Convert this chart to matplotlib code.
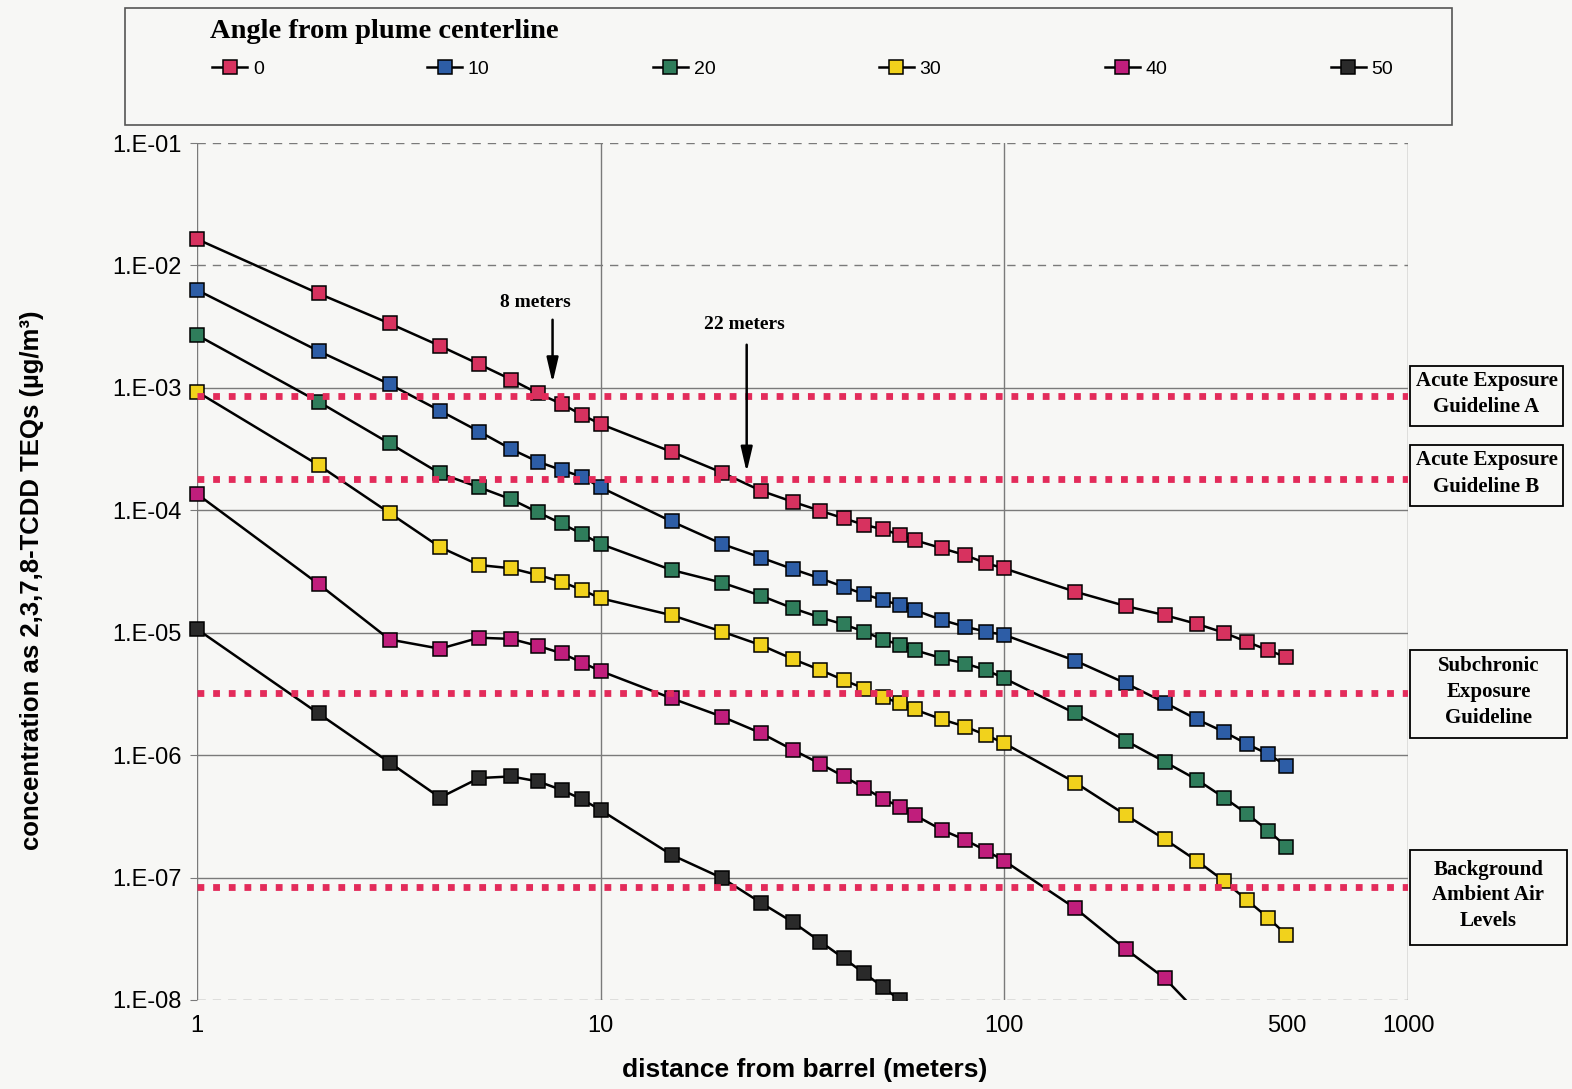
import numpy as np
import matplotlib
matplotlib.use('Agg')
from matplotlib import pyplot as plt
from matplotlib.lines import Line2D
from matplotlib.patches import Rectangle

# distance from barrel (m) and concentration per angle (ug/m3)
distance = [1, 2, 3, 4, 5, 6, 7, 8, 9, 10, 15, 20, 25, 30, 35, 40, 45, 50, 55, 60,
            70, 80, 90, 100, 150, 200, 250, 300, 350, 400, 450, 500]

angle_0 = [1.64e-2, 5.9e-3, 3.36e-3, 2.2e-3, 1.56e-3, 1.17e-3, 9.0e-4, 7.4e-4, 6.0e-4, 5.06e-4,
           3.0e-4, 2.03e-4, 1.44e-4, 1.17e-4, 9.9e-5, 8.6e-5, 7.6e-5, 7.0e-5, 6.3e-5, 5.7e-5,
           4.9e-5, 4.3e-5, 3.7e-5, 3.35e-5, 2.16e-5, 1.65e-5, 1.39e-5, 1.18e-5, 1.0e-5, 8.4e-6,
           7.2e-6, 6.3e-6]
angle_10 = [6.3e-3, 2.0e-3, 1.07e-3, 6.5e-4, 4.4e-4, 3.16e-4, 2.49e-4, 2.13e-4, 1.88e-4, 1.54e-4,
            8.1e-5, 5.3e-5, 4.1e-5, 3.3e-5, 2.78e-5, 2.37e-5, 2.06e-5, 1.85e-5, 1.68e-5, 1.53e-5,
            1.27e-5, 1.12e-5, 1.02e-5, 9.6e-6, 5.9e-6, 3.86e-6, 2.68e-6, 1.96e-6, 1.55e-6, 1.23e-6,
            1.02e-6, 8.2e-7]
angle_20 = [2.7e-3, 7.7e-4, 3.52e-4, 2.0e-4, 1.54e-4, 1.23e-4, 9.6e-5, 7.8e-5, 6.4e-5, 5.3e-5,
            3.25e-5, 2.56e-5, 2.0e-5, 1.58e-5, 1.33e-5, 1.17e-5, 1.02e-5, 8.8e-6, 8.0e-6, 7.2e-6,
            6.2e-6, 5.6e-6, 4.96e-6, 4.24e-6, 2.19e-6, 1.31e-6, 8.8e-7, 6.3e-7, 4.5e-7, 3.3e-7,
            2.42e-7, 1.79e-7]
angle_30 = [9.3e-4, 2.34e-4, 9.5e-5, 5.0e-5, 3.57e-5, 3.36e-5, 2.96e-5, 2.61e-5, 2.23e-5, 1.91e-5,
            1.39e-5, 1.02e-5, 7.9e-6, 6.07e-6, 4.96e-6, 4.1e-6, 3.5e-6, 3.0e-6, 2.65e-6, 2.36e-6,
            1.96e-6, 1.71e-6, 1.46e-6, 1.25e-6, 5.96e-7, 3.24e-7, 2.05e-7, 1.37e-7, 9.4e-8, 6.5e-8,
            4.7e-8, 3.4e-8]
angle_40 = [1.36e-4, 2.5e-5, 8.8e-6, 7.4e-6, 9.1e-6, 8.9e-6, 7.8e-6, 6.8e-6, 5.7e-6, 4.86e-6,
            2.91e-6, 2.06e-6, 1.51e-6, 1.10e-6, 8.5e-7, 6.7e-7, 5.4e-7, 4.4e-7, 3.8e-7, 3.24e-7,
            2.45e-7, 2.03e-7, 1.66e-7, 1.37e-7, 5.6e-8, 2.6e-8, 1.5e-8, 8.0e-9]
angle_50 = [1.07e-5, 2.19e-6, 8.7e-7, 4.5e-7, 6.5e-7, 6.7e-7, 6.1e-7, 5.2e-7, 4.35e-7, 3.56e-7,
            1.53e-7, 9.9e-8, 6.2e-8, 4.3e-8, 3.0e-8, 2.19e-8, 1.65e-8, 1.28e-8, 1.0e-8]

series = [angle_0, angle_10, angle_20, angle_30, angle_40, angle_50]
series_labels = ['0', '10', '20', '30', '40', '50']
colors = ['#d7325f', '#2d5da6', '#2f7d5b', '#f1d21c', '#c01e7c', '#2a2a2a']

guide_levels = [8.6e-4, 1.8e-4, 3.24e-6, 8.4e-8]
guide_labels = ['Acute Exposure\nGuideline A', 'Acute Exposure\nGuideline B',
                'Subchronic\nExposure\nGuideline', 'Background\nAmbient Air\nLevels']

ytick_vals = [1e-8, 1e-7, 1e-6, 1e-5, 1e-4, 1e-3, 1e-2, 1e-1]
ytick_labels = ['1.E-08', '1.E-07', '1.E-06', '1.E-05', '1.E-04', '1.E-03', '1.E-02', '1.E-01']
xtick_vals = [1, 10, 100, 500, 1000]
xtick_labels = ['1', '10', '100', '500', '1000']

arrow_x = [7.6, 23]
arrow_tip = [1.1e-3, 2.05e-4]
arrow_tail = [3.6e-3, 2.25e-3]
arrow_text_x = [6.9, 22.7]
arrow_text_y = [5.0e-3, 3.3e-3]
arrow_labels = ['8 meters', '22 meters']

W, H = 1572, 1089
bg = '#f7f7f5'
sans = 'Liberation Sans'
serif = 'Liberation Serif'
red = '#e32b5a'

fig = plt.figure(figsize=(W / 100, H / 100), dpi=100, facecolor=bg)
ax = fig.add_axes([197 / W, 1 - 1000 / H, (1408 - 197) / W, (1000 - 143) / H], facecolor=bg)
ax.set_xscale('log')
ax.set_yscale('log')
ax.set_xlim(1, 1000)
ax.set_ylim(1e-8, 1e-1)
for s in ax.spines.values():
    s.set_visible(False)

# grid: solid verticals, dashed top/bottom and 1e-2
for xv in [1, 10, 100, 1000]:
    ax.axvline(xv, color='#7a7a7a', lw=1.0, zorder=1)
for yv in ytick_vals:
    ls = (0, (6, 5)) if yv in (1e-1, 1e-2, 1e-8) else '-'
    ax.axhline(yv, color='#7a7a7a', lw=1.0, ls=ls, zorder=1)

ax.set_yticks(ytick_vals)
ax.set_yticklabels(ytick_labels, fontfamily=sans, fontsize=17)
ax.yaxis.set_minor_locator(matplotlib.ticker.NullLocator())
ax.tick_params(axis='y', length=5, color='#7a7a7a', pad=6)
ax.set_xticks(xtick_vals)
ax.set_xticklabels(xtick_labels, fontfamily=sans, fontsize=17)
ax.xaxis.set_minor_locator(matplotlib.ticker.NullLocator())
ax.tick_params(axis='x', length=0, pad=11)

clip = Rectangle((-0.02, 0), 1.04, 1, transform=ax.transAxes, visible=False)
ax.add_patch(clip)
for vals, c in zip(series, colors):
    ln, = ax.plot(distance[:len(vals)], vals, color='black', lw=1.8, marker='s',
                  ms=10, mfc=c, mec='black', mew=1.1, zorder=3)
    ln.set_clip_path(clip)

for lvl in guide_levels:
    ax.axhline(lvl, color=red, lw=4.9, dashes=(1.0, 1.3), dash_capstyle='butt', zorder=5)

for x, tip, tail, tx, ty, lab in zip(arrow_x, arrow_tip, arrow_tail, arrow_text_x,
                                     arrow_text_y, arrow_labels):
    ax.annotate('', xy=(x, tip), xytext=(x, tail),
                arrowprops=dict(arrowstyle='-|>,head_length=1.5,head_width=0.35',
                                color='black', lw=1.8, shrinkA=0, shrinkB=0), zorder=6)
    ax.text(tx, ty, lab, ha='center', va='center', fontfamily=serif,
            fontweight='bold', fontsize=14)

# boxes on the right
box_px = [(1410, 366, 1563, 426), (1410, 445, 1563, 506),
          (1410, 650, 1567, 738), (1410, 850, 1567, 945)]
for (x0, y0, x1, y1), lab in zip(box_px, guide_labels):
    fig.patches.append(Rectangle((x0 / W, 1 - y1 / H), (x1 - x0) / W, (y1 - y0) / H,
                                 transform=fig.transFigure, fill=False,
                                 edgecolor='black', lw=1.3))
    fig.text((x0 + x1) / 2 / W, 1 - (y0 + y1 - 4) / 2 / H, lab, ha='center', va='center',
             fontfamily=serif, fontweight='bold', fontsize=15, linespacing=1.4)

# legend box at top
fig.patches.append(Rectangle((125 / W, 1 - 125 / H), (1452 - 125) / W, (125 - 8) / H,
                             transform=fig.transFigure, fill=False,
                             edgecolor='#555555', lw=1.2))
fig.text(210 / W, 1 - 31 / H, 'Angle from plume centerline', ha='left', va='center',
         fontfamily=serif, fontweight='bold', fontsize=20.5)
handles = [Line2D([], [], color='black', lw=1.8, marker='s', ms=10, mfc=c, mec='black', mew=1.1)
           for c in colors]
leg = fig.legend(handles, series_labels, ncol=6, loc='center left',
                 bbox_to_anchor=(212 / W, 1 - 69 / H), frameon=False,
                 prop={'family': sans, 'size': 14}, handlelength=1.8,
                 handletextpad=0.3, columnspacing=8.4, borderpad=0, borderaxespad=0)

fig.text(32 / W, 1 - 580 / H, 'concentration as 2,3,7,8-TCDD TEQs (µg/m³)', rotation=90,
         ha='center', va='center', fontfamily=sans, fontweight='bold', fontsize=18.5)
fig.text(805 / W, 1 - 1070 / H, 'distance from barrel (meters)', ha='center', va='center',
         fontfamily=sans, fontweight='bold', fontsize=19)

plt.savefig('out.png', dpi=100, facecolor=bg)
